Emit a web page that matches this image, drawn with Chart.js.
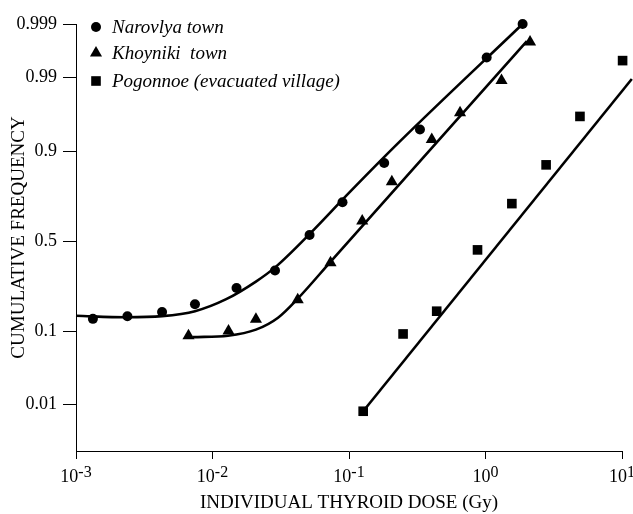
<!DOCTYPE html>
<html><head><meta charset="utf-8">
<script src="https://cdn.jsdelivr.net/npm/chart.js@4.4.0/dist/chart.umd.min.js"></script>
<style>html,body{margin:0;padding:0;background:#fff}</style>
</head><body>
<canvas id="c" width="633" height="514"></canvas>
<script>
// ---- data ----
const seriesNames = ['Narovlya town', 'Khoyniki  town', 'Pogonnoe (evacuated village)'];

const narovlyaDose = [0.00133, 0.00238, 0.00427, 0.00744, 0.0150, 0.0287, 0.0514, 0.0896, 0.181, 0.331, 1.02, 1.87];
const narovlyaFreq = [0.134, 0.142, 0.156, 0.184, 0.252, 0.338, 0.534, 0.710, 0.867, 0.944, 0.9955, 0.9990];

const khoynikiDose = [0.00667, 0.0131, 0.0208, 0.0421, 0.0732, 0.125, 0.206, 0.404, 0.651, 1.31, 2.12];
const khoynikiFreq = [0.089, 0.100, 0.133, 0.202, 0.379, 0.612, 0.801, 0.926, 0.966, 0.9889, 0.9977];

const pogonnoeDose = [0.127, 0.249, 0.439, 0.874, 1.56, 2.78, 4.92, 10.1];
const pogonnoeFreq = [0.0077, 0.093, 0.159, 0.450, 0.703, 0.861, 0.962, 0.9949];

// fitted curves
const narovlyaFitDose = [0.001, 0.00232, 0.00427, 0.00744, 0.0126, 0.0208, 0.0292, 0.0518, 0.102, 0.236, 1.87];
const narovlyaFitFreq = [0.144, 0.139, 0.1425, 0.159, 0.204, 0.282, 0.358, 0.542, 0.759, 0.922, 0.9990];

const khoynikiFitDose = [0.00716, 0.0130, 0.0208, 0.0302, 0.0421, 0.0734, 2.01];
const khoynikiFitFreq = [0.0856, 0.089, 0.1036, 0.1377, 0.206, 0.385, 0.9978];

const pogonnoeFitDose = [0.127, 11.8];
const pogonnoeFitFreq = [0.0077, 0.9895];

// axes
const xTickExponents = [-3, -2, -1, 0, 1];
const yTickValues = [0.01, 0.1, 0.5, 0.9, 0.99, 0.999];
const yTickLabels = ['0.01', '0.1', '0.5', '0.9', '0.99', '0.999'];
const yMinFreq = 0.0014, yMaxFreq = 0.999;
const xMinDose = 0.001, xMaxDose = 10;
const xTitle = 'INDIVIDUAL THYROID DOSE (Gy)';
const yTitle = 'CUMULATIVE FREQUENCY';

// ---- probability (probit) transform ----
function probit(p){
  const a=[-3.969683028665376e+01,2.209460984245205e+02,-2.759285104469687e+02,1.383577518672690e+02,-3.066479806614716e+01,2.506628277459239e+00];
  const b=[-5.447609879822406e+01,1.615858368580409e+02,-1.556989798598866e+02,6.680131188771972e+01,-1.328068155288572e+01];
  const c=[-7.784894002430293e-03,-3.223964580411365e-01,-2.400758277161838e+00,-2.549732539343734e+00,4.374664141464968e+00,2.938163982698783e+00];
  const d=[7.784695709041462e-03,3.224671290700398e-01,2.445134137142996e+00,3.754408661907416e+00];
  const pl=0.02425, ph=1-pl; let q, r;
  if (p < pl){ q=Math.sqrt(-2*Math.log(p)); return (((((c[0]*q+c[1])*q+c[2])*q+c[3])*q+c[4])*q+c[5])/((((d[0]*q+d[1])*q+d[2])*q+d[3])*q+1); }
  if (p <= ph){ q=p-0.5; r=q*q; return (((((a[0]*r+a[1])*r+a[2])*r+a[3])*r+a[4])*r+a[5])*q/(((((b[0]*r+b[1])*r+b[2])*r+b[3])*r+b[4])*r+1); }
  q=Math.sqrt(-2*Math.log(1-p)); return -(((((c[0]*q+c[1])*q+c[2])*q+c[3])*q+c[4])*q+c[5])/((((d[0]*q+d[1])*q+d[2])*q+d[3])*q+1);
}
const pts = (xs, ps) => xs.map((x, i) => ({x: x, y: probit(ps[i])}));

const SERIF = "'Liberation Serif','Times New Roman',serif";
const markers = [
  {style: 'circle', radius: 5},
  {style: 'triangle', radius: 7},
  {style: 'rect', radius: 6.8}
];

function drawMarker(ctx, m, x, y){
  ctx.beginPath();
  if (m.style === 'circle'){ ctx.arc(x, y, m.radius, 0, Math.PI*2); }
  else if (m.style === 'triangle'){
    const r = m.radius;
    ctx.moveTo(x, y - r);
    ctx.lineTo(x + r*Math.sin(2*Math.PI/3), y - r*Math.cos(2*Math.PI/3));
    ctx.lineTo(x + r*Math.sin(4*Math.PI/3), y - r*Math.cos(4*Math.PI/3));
    ctx.closePath();
  } else { const s = m.radius*Math.SQRT1_2; ctx.rect(x - s, y - s, 2*s, 2*s); }
  ctx.fill();
}

const overlay = {
  id: 'overlay',
  afterDraw(chart){
    const {ctx, chartArea, scales: {x}} = chart;
    ctx.save();
    ctx.fillStyle = '#000';
    ctx.textBaseline = 'alphabetic';
    ctx.textAlign = 'left';
    xTickExponents.forEach(e => {
      const px = x.getPixelForValue(Math.pow(10, e));
      ctx.font = '18px ' + SERIF; const wb = ctx.measureText('10').width;
      const es = String(e);
      ctx.font = '16px ' + SERIF; const we = ctx.measureText(es).width;
      const start = px - (wb + we) / 2;
      ctx.font = '18px ' + SERIF; ctx.fillText('10', start, x.top + 31);
      ctx.font = '16px ' + SERIF; ctx.fillText(es, start + wb, x.top + 26);
    });
    // legend
    const rowY = [3, 29, 57];
    ctx.font = 'italic 19px ' + SERIF;
    ctx.textBaseline = 'middle';
    seriesNames.forEach((name, i) => {
      const yy = chartArea.top + rowY[i];
      drawMarker(ctx, markers[i], chartArea.left + 20, yy);
      ctx.fillText(name, chartArea.left + 36, yy + 1);
    });
    ctx.restore();
  }
};

const lineStyle = {showLine: true, borderColor: '#000', borderWidth: 2.6, pointRadius: 0, fill: false, clip: false};
const pointStyleFor = (i) => ({showLine: false, pointStyle: markers[i].style, pointRadius: markers[i].radius,
  backgroundColor: '#000', borderColor: '#000', borderWidth: 0, clip: false});

new Chart(document.getElementById('c'), {
  type: 'scatter',
  data: {datasets: [
    Object.assign({label: seriesNames[0] + ' fit', data: pts(narovlyaFitDose, narovlyaFitFreq), cubicInterpolationMode: 'monotone'}, lineStyle),
    Object.assign({label: seriesNames[1] + ' fit', data: pts(khoynikiFitDose, khoynikiFitFreq), cubicInterpolationMode: 'monotone'}, lineStyle),
    Object.assign({label: seriesNames[2] + ' fit', data: pts(pogonnoeFitDose, pogonnoeFitFreq)}, lineStyle),
    Object.assign({label: seriesNames[0], data: pts(narovlyaDose, narovlyaFreq)}, pointStyleFor(0)),
    Object.assign({label: seriesNames[1], data: pts(khoynikiDose, khoynikiFreq)}, pointStyleFor(1)),
    Object.assign({label: seriesNames[2], data: pts(pogonnoeDose, pogonnoeFreq)}, pointStyleFor(2))
  ]},
  options: {
    responsive: false, animation: false, events: [],
    layout: {padding: {left: 0, right: 11, top: 24, bottom: 0}},
    plugins: {legend: {display: false}, tooltip: {enabled: false}},
    scales: {
      x: {
        type: 'logarithmic', min: xMinDose, max: xMaxDose,
        afterBuildTicks: s => { s.ticks = xTickExponents.map(e => ({value: Math.pow(10, e)})); },
        afterFit: s => { s.height = 63; },
        ticks: {display: false},
        grid: {display: true, drawOnChartArea: false, drawTicks: true, tickLength: 8, color: '#000', lineWidth: 1},
        border: {display: true, color: '#000', width: 1},
        title: {display: true, text: xTitle, color: '#000', font: {family: SERIF, size: 19}, padding: {top: 0, bottom: 0}}
      },
      y: {
        type: 'linear', min: probit(yMinFreq), max: probit(yMaxFreq),
        afterBuildTicks: s => { s.ticks = yTickValues.map(v => ({value: probit(v)})); },
        afterFit: s => { s.width = 76; },
        ticks: {callback: (v, i) => yTickLabels[i], color: '#000', font: {family: SERIF, size: 18}, padding: 6, autoSkip: false},
        grid: {display: true, drawOnChartArea: false, drawTicks: true, tickLength: 13, color: '#000', lineWidth: 1},
        border: {display: true, color: '#000', width: 1},
        title: {display: true, text: yTitle, color: '#000', font: {family: SERIF, size: 19}, padding: {top: 8, bottom: 0}}
      }
    }
  },
  plugins: [overlay]
});
</script>
</body></html>
